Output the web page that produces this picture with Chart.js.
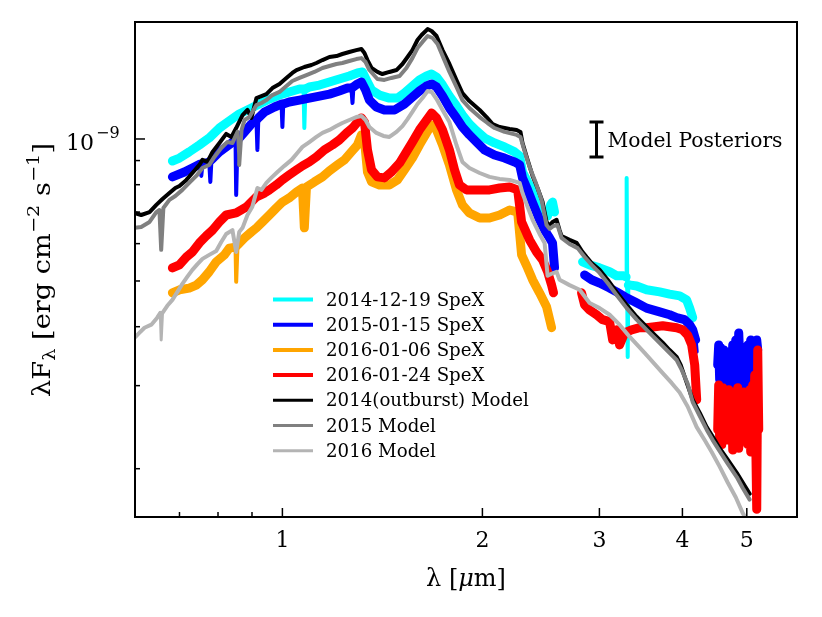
<!DOCTYPE html>
<html>
<head>
<meta charset="utf-8">
<script src="https://cdn.jsdelivr.net/npm/chart.js@4.4.1/dist/chart.umd.min.js"></script>
<style>
  html, body { margin: 0; padding: 0; background: #fff; }
</style>
</head>
<body>
<canvas id="chart" width="822" height="617"></canvas>
<script>
// wavelength in micron, flux (lambda F_lambda) in units of 1e-10 erg cm^-2 s^-1
// null = gap between spectral orders
const spex20141219 = [
  [0.683,8.98],[0.700,9.11],[0.724,9.39],[0.750,9.71],[0.776,10.05],[0.804,10.55],[0.832,10.92],
  [0.861,11.30],[0.892,11.58],[0.923,11.86],[0.956,12.15],[0.990,12.39],[1.024,12.58],[1.061,12.76],
  [1.076,12.76],[1.079,10.55],[1.083,12.76],[1.098,12.89],[1.137,13.01],[1.177,13.21],[1.218,13.40],
  [1.261,13.60],[1.297,13.80],[1.320,13.87],[1.338,13.34],[1.362,12.70],[1.400,12.39],[1.449,12.21],
  [1.490,12.21],[1.526,12.51],[1.569,12.95],[1.608,13.34],[1.648,13.60],[1.677,13.73],[1.706,13.53],
  [1.742,13.01],[1.784,12.33],[1.828,11.75],[1.866,11.24],[1.912,10.76],[1.960,10.40],[2.015,10.05],
  [2.086,9.81],[2.160,9.62],[2.236,9.39],[2.276,9.20],[2.298,8.51],[2.339,8.11],[2.380,7.76],
  [2.421,7.35],[2.464,7.00],[2.507,6.87],[2.533,7.25],[2.550,7.35],[2.568,7.00],[2.70,null],
  [2.830,5.49],[2.900,5.41],[3.002,5.33],[3.108,5.23],[3.184,5.13],[3.263,5.13],[3.291,5.10],
  [3.297,8.27],[3.303,5.03],[3.309,3.45],[3.316,4.90],[3.343,4.90],[3.413,4.88],[3.533,4.79],
  [3.697,4.74],[3.826,4.69],[3.962,4.65],[4.058,4.56],[4.102,4.38],[4.145,4.18]
];

const spex20150115 = [
  [0.683,8.31],[0.712,8.51],[0.737,8.72],[0.752,8.85],[0.755,8.35],[0.758,8.85],[0.776,8.94],
  [0.779,8.11],[0.782,9.03],[0.804,9.39],[0.826,9.66],[0.850,9.95],[0.852,7.61],[0.856,9.95],
  [0.877,10.35],[0.898,10.76],[0.914,10.97],[0.917,9.48],[0.920,11.08],[0.940,11.41],[0.973,11.69],
  [0.997,11.86],[1.000,10.60],[1.003,11.86],[1.024,11.98],[1.061,12.09],[1.098,12.21],[1.137,12.33],
  [1.177,12.45],[1.218,12.64],[1.253,12.82],[1.270,12.82],[1.275,11.92],[1.279,12.89],[1.297,13.08],
  [1.315,13.21],[1.334,12.70],[1.352,12.09],[1.385,11.69],[1.424,11.52],[1.475,11.52],[1.526,11.86],
  [1.569,12.27],[1.608,12.64],[1.648,12.95],[1.677,13.08],[1.706,12.89],[1.742,12.33],[1.784,11.63],
  [1.828,11.08],[1.866,10.60],[1.912,10.20],[1.960,9.85],[2.015,9.48],[2.086,9.25],[2.160,9.11],
  [2.236,8.94],[2.276,8.81],[2.298,8.27],[2.339,7.80],[2.380,7.32],[2.438,6.74],[2.481,6.41],
  [2.524,6.17],[2.550,6.02],[2.568,5.33],[2.70,null],
  [2.850,5.15],[2.920,5.03],[3.002,4.95],[3.108,4.83],[3.184,4.74],[3.274,4.63],[3.389,4.52],
  [3.533,4.38],[3.697,4.30],[3.826,4.24],[3.921,4.18],[4.030,4.14],[4.102,4.04],[4.145,3.94],
  [4.188,3.75],[4.203,3.54],[4.35,null],
  [4.520,3.32],[4.536,3.66],[4.551,3.09],[4.568,3.61],[4.599,3.01],[4.616,3.57],[4.648,3.06],
  [4.664,3.54],[4.696,3.01],[4.712,3.49],[4.745,3.09],[4.762,3.66],[4.795,2.97],[4.812,3.75],
  [4.845,3.01],[4.862,3.88],[4.896,3.00],[4.913,3.57],[4.947,3.01],[4.964,3.49],[4.998,3.04],
  [5.016,3.66],[5.050,3.16],[5.068,3.75],[5.103,3.24],[5.121,3.66],[5.157,3.40],[5.175,3.75],
  [5.193,3.57]
];

const spex20160106 = [
  [0.683,4.72],[0.700,4.79],[0.724,4.83],[0.742,4.90],[0.758,5.03],[0.776,5.23],[0.795,5.49],
  [0.818,5.68],[0.832,5.87],[0.850,5.90],[0.852,4.98],[0.856,5.96],[0.877,6.17],[0.898,6.35],
  [0.914,6.48],[0.933,6.67],[0.956,6.90],[0.979,7.14],[1.000,7.35],[1.024,7.50],[1.050,7.72],
  [1.072,7.87],[1.079,6.48],[1.087,7.91],[1.117,8.11],[1.149,8.31],[1.177,8.56],[1.210,8.81],
  [1.240,9.03],[1.270,9.39],[1.297,9.71],[1.315,10.20],[1.329,9.95],[1.343,8.51],[1.362,8.11],
  [1.400,7.99],[1.449,7.99],[1.490,8.19],[1.526,8.60],[1.569,9.11],[1.608,9.71],[1.648,10.30],
  [1.677,10.71],[1.706,10.45],[1.742,9.71],[1.784,8.81],[1.828,7.80],[1.866,7.25],[1.912,6.97],
  [1.981,6.80],[2.050,6.80],[2.123,6.90],[2.198,7.07],[2.260,7.00],[2.291,5.68],[2.339,5.33],
  [2.380,5.03],[2.438,4.72],[2.498,4.41],[2.542,3.98]
];

const spex20160124 = [
  [0.683,5.33],[0.700,5.41],[0.717,5.62],[0.732,5.76],[0.750,6.02],[0.768,6.23],[0.785,6.41],
  [0.804,6.67],[0.823,6.90],[0.852,6.97],[0.883,7.18],[0.914,7.54],[0.940,7.68],[0.956,7.80],
  [0.979,7.99],[1.000,8.19],[1.024,8.39],[1.050,8.60],[1.072,8.77],[1.098,8.94],[1.125,9.16],
  [1.157,9.48],[1.189,9.71],[1.218,9.95],[1.249,10.30],[1.275,10.55],[1.297,10.86],[1.315,11.08],
  [1.329,10.86],[1.343,9.48],[1.362,8.60],[1.390,8.31],[1.424,8.27],[1.459,8.51],[1.501,8.89],
  [1.537,9.39],[1.569,9.85],[1.608,10.45],[1.648,10.97],[1.677,11.35],[1.706,11.08],[1.742,10.45],
  [1.784,9.48],[1.816,8.60],[1.847,7.99],[1.892,7.80],[1.946,7.80],[2.001,7.80],[2.050,7.80],
  [2.123,7.87],[2.198,7.91],[2.260,7.80],[2.291,6.67],[2.355,6.11],[2.413,5.76],[2.464,5.54],
  [2.507,5.23],[2.542,4.90],[2.559,4.72],[2.70,null],
  [2.820,4.72],[2.850,4.45],[2.900,4.34],[2.971,4.24],[3.033,4.14],[3.108,4.10],[3.141,3.75],
  [3.184,3.94],[3.217,3.66],[3.274,3.88],[3.354,3.94],[3.449,3.98],[3.533,3.98],[3.633,4.00],
  [3.736,4.02],[3.826,4.00],[3.921,3.98],[4.003,3.94],[4.073,3.84],[4.130,3.66],[4.174,3.32],
  [4.203,2.80],[4.35,null],
  [4.520,2.42],[4.536,3.01],[4.551,2.30],[4.568,2.91],[4.584,2.25],[4.599,2.97],[4.632,2.39],
  [4.648,2.87],[4.664,2.30],[4.696,2.94],[4.712,2.44],[4.745,2.91],[4.762,2.19],[4.795,2.87],
  [4.812,2.48],[4.845,2.97],[4.862,2.21],[4.896,2.90],[4.913,2.42],[4.947,2.91],[4.964,2.30],
  [4.998,2.87],[5.016,2.25],[5.050,2.94],[5.068,2.17],[5.103,3.01],[5.121,2.36],[5.139,3.16],
  [5.157,2.30],[5.175,1.64],[5.193,3.57],[5.211,2.42]
];

const model2014 = [
  [0.599,6.97],[0.613,6.90],[0.631,7.00],[0.646,7.25],[0.660,7.46],[0.676,7.68],[0.690,7.87],
  [0.700,7.95],[0.717,8.19],[0.732,8.47],[0.750,8.81],[0.758,9.03],[0.771,8.94],[0.785,9.39],
  [0.804,9.81],[0.823,10.25],[0.838,10.10],[0.852,10.55],[0.871,11.24],[0.886,11.52],[0.898,11.08],
  [0.914,12.21],[0.930,12.33],[0.946,12.45],[0.966,12.82],[0.990,13.08],[1.014,13.47],[1.035,13.80],
  [1.050,14.00],[1.079,14.21],[1.106,14.35],[1.125,14.49],[1.149,14.70],[1.177,14.92],[1.206,14.99],
  [1.231,15.14],[1.261,15.29],[1.292,15.43],[1.315,15.51],[1.329,15.21],[1.343,14.70],[1.362,14.14],
  [1.390,13.87],[1.414,13.73],[1.449,13.87],[1.485,14.00],[1.516,14.42],[1.543,14.92],[1.569,15.43],
  [1.597,16.21],[1.620,16.61],[1.654,17.10],[1.677,16.94],[1.706,16.53],[1.742,15.43],[1.784,14.42],
  [1.828,13.34],[1.866,12.51],[1.912,12.03],[1.981,11.52],[2.029,11.13],[2.072,10.76],[2.123,10.60],
  [2.198,10.50],[2.252,10.45],[2.282,10.35],[2.298,9.81],[2.339,9.03],[2.380,8.35],[2.421,7.87],
  [2.464,7.35],[2.498,6.67],[2.524,6.54],[2.550,6.67],[2.586,6.74],[2.613,6.41],[2.631,6.23],
  [2.705,6.11],[2.772,6.02],[2.830,5.76],[2.870,5.62],[2.920,5.46],[3.002,5.28],[3.087,5.03],
  [3.184,4.74],[3.297,4.45],[3.413,4.20],[3.570,3.94],[3.736,3.70],[3.826,3.57],[3.921,3.45],
  [3.976,3.32],[4.045,3.09],[4.145,2.80],[4.246,2.63],[4.351,2.45],[4.442,2.34],[4.551,2.21],
  [4.680,2.09],[4.829,1.96],[4.930,1.87],[5.050,1.77]
];

const model2015 = [
  [0.599,6.48],[0.613,6.51],[0.631,6.67],[0.646,7.00],[0.653,7.07],[0.657,5.82],[0.662,7.14],
  [0.676,7.43],[0.690,7.57],[0.707,7.80],[0.724,8.07],[0.742,8.35],[0.758,8.68],[0.776,8.81],
  [0.790,9.16],[0.809,9.57],[0.826,9.85],[0.841,9.81],[0.856,10.35],[0.861,8.81],[0.868,10.45],
  [0.877,10.97],[0.892,11.13],[0.914,11.80],[0.930,11.92],[0.946,12.09],[0.966,12.39],[0.990,12.58],
  [1.014,12.95],[1.035,13.27],[1.061,13.47],[1.087,13.66],[1.117,13.87],[1.149,14.14],[1.177,14.28],
  [1.206,14.42],[1.231,14.49],[1.261,14.63],[1.292,14.77],[1.315,14.84],[1.334,14.56],[1.352,14.00],
  [1.390,13.40],[1.424,13.34],[1.459,13.47],[1.501,13.60],[1.537,14.14],[1.569,14.84],[1.597,15.59],
  [1.625,16.06],[1.654,16.53],[1.683,16.37],[1.712,15.90],[1.748,14.84],[1.784,13.87],[1.828,12.89],
  [1.866,12.09],[1.912,11.63],[1.981,11.13],[2.036,10.81],[2.086,10.55],[2.160,10.35],[2.252,10.20],
  [2.282,10.10],[2.307,9.57],[2.355,8.72],[2.404,8.11],[2.455,7.43],[2.498,6.57],[2.524,6.45],
  [2.559,6.54],[2.595,6.57],[2.631,6.17],[2.705,5.99],[2.782,5.87],[2.850,5.62],[2.920,5.41],
  [3.002,5.20],[3.087,4.95],[3.184,4.67],[3.297,4.38],[3.413,4.14],[3.570,3.88],[3.736,3.64],
  [3.921,3.40],[3.990,3.24],[4.073,3.03],[4.145,2.77],[4.246,2.59],[4.351,2.42],[4.442,2.30],
  [4.551,2.18],[4.680,2.05],[4.829,1.92],[4.930,1.82],[5.050,1.72]
];

const model2016 = [
  [0.599,3.79],[0.609,3.88],[0.620,3.98],[0.635,4.04],[0.648,4.18],[0.655,4.28],[0.657,3.75],
  [0.660,4.28],[0.671,4.43],[0.683,4.56],[0.695,4.74],[0.707,4.93],[0.719,5.10],[0.732,5.28],
  [0.745,5.43],[0.758,5.57],[0.776,5.68],[0.795,5.79],[0.809,6.05],[0.823,6.29],[0.841,6.41],
  [0.852,5.76],[0.861,6.35],[0.871,6.48],[0.886,6.90],[0.901,7.18],[0.917,7.87],[0.930,7.80],
  [0.946,8.07],[0.962,8.27],[0.983,8.51],[1.007,8.77],[1.032,9.03],[1.053,9.34],[1.072,9.62],
  [1.098,9.85],[1.125,10.10],[1.149,10.30],[1.177,10.45],[1.206,10.65],[1.231,10.81],[1.261,10.97],
  [1.292,11.13],[1.315,11.19],[1.334,10.97],[1.352,10.60],[1.385,10.30],[1.419,10.15],[1.449,10.10],
  [1.485,10.35],[1.516,10.65],[1.543,11.02],[1.569,11.41],[1.597,11.86],[1.625,12.21],[1.654,12.64],
  [1.677,12.58],[1.706,12.15],[1.742,11.52],[1.784,10.86],[1.828,9.71],[1.866,8.94],[1.912,8.68],
  [1.981,8.47],[2.050,8.31],[2.123,8.23],[2.198,8.19],[2.276,8.07],[2.298,7.68],[2.339,7.18],
  [2.380,6.74],[2.438,6.29],[2.481,6.02],[2.507,5.13],[2.542,5.18],[2.586,5.23],[2.613,5.03],
  [2.705,4.90],[2.801,4.79],[2.900,4.49],[3.002,4.38],[3.108,4.24],[3.217,4.04],[3.331,3.81],
  [3.509,3.52],[3.736,3.19],[3.853,3.04],[3.962,2.90],[4.073,2.71],[4.203,2.45],[4.320,2.30],
  [4.427,2.17],[4.551,2.02],[4.680,1.87],[4.812,1.74],[4.930,1.61],[4.998,1.56]
];

const seriesLabels = [
  "2014-12-19 SpeX", "2015-01-15 SpeX", "2016-01-06 SpeX", "2016-01-24 SpeX",
  "2014(outburst) Model", "2015 Model", "2016 Model"
];
const seriesColors = ["#00ffff", "#0000ff", "#ffa500", "#ff0000", "#000000", "#808080", "#b4b4b4"];

const xTicks = [0.7, 0.8, 0.9, 1, 2, 3, 4, 5];
const xTickLabels = ["", "", "", "1", "2", "3", "4", "5"];
const yTicks = [2e-10, 3e-10, 4e-10, 5e-10, 6e-10, 7e-10, 8e-10, 9e-10, 1e-9];
const yMajor = [1e-9];

// the "Model Posteriors" error bar: wavelength, low, high
const posteriorBar = [2.97, 9.16e-10, 1.086e-9];

const SERIF = '"DejaVu Serif", "Liberation Serif", serif';
const UNIT = 1e-10;

function toPoints(pairs) {
  return pairs.map(p => ({ x: p[0], y: p[1] === null ? null : p[1] * UNIT }));
}

const allSeries = [spex20141219, spex20150115, spex20160106, spex20160124, model2014, model2015, model2016];

// narrow absorption / emission spikes (points very close in wavelength) are drawn thinner
function spikeWidth(normal, thin) {
  return ctx => {
    const a = ctx.p0.parsed.x, b = ctx.p1.parsed.x;
    return (a < 4.4 && b / a < 1.006) ? thin : normal;
  };
}

const datasets = allSeries.map((s, i) => ({
  label: seriesLabels[i],
  data: toPoints(s),
  borderColor: seriesColors[i],
  backgroundColor: seriesColors[i],
  borderWidth: i < 4 ? 9 : 4,
  segment: { borderWidth: i < 4 ? spikeWidth(9, 4) : spikeWidth(4, 3) },
  pointRadius: 0,
  tension: 0,
  spanGaps: false,
  borderJoinStyle: "round",
  borderCapStyle: "round",
  order: 7 - i
}));

function drawRuns(ctx, runs, x, y) {
  let cx = x;
  runs.forEach(r => {
    ctx.font = (r.style || "") + " " + r.size + "px " + SERIF;
    ctx.fillText(r.t, cx, y + (r.dy || 0));
    cx += ctx.measureText(r.t).width;
  });
  return cx - x;
}

function runsWidth(ctx, runs) {
  let w = 0;
  runs.forEach(r => {
    ctx.font = (r.style || "") + " " + r.size + "px " + SERIF;
    w += ctx.measureText(r.t).width;
  });
  return w;
}

const decorations = {
  id: "decorations",
  afterDraw(chart) {
    const ctx = chart.ctx;
    const area = chart.chartArea;
    const xs = chart.scales.x;
    const ys = chart.scales.y;
    ctx.save();
    ctx.fillStyle = "#000";
    ctx.strokeStyle = "#000";

    // ticks pointing inwards
    ctx.lineWidth = 1.5;
    xTicks.forEach((v, i) => {
      const px = xs.getPixelForValue(v);
      const len = xTickLabels[i] ? 9 : 5;
      ctx.beginPath();
      ctx.moveTo(px, area.bottom);
      ctx.lineTo(px, area.bottom - len);
      ctx.stroke();
    });
    yTicks.forEach(v => {
      const py = ys.getPixelForValue(v);
      const len = yMajor.includes(v) ? 10 : 5;
      ctx.beginPath();
      ctx.moveTo(area.left, py);
      ctx.lineTo(area.left + len, py);
      ctx.stroke();
    });

    // frame
    ctx.lineWidth = 2;
    ctx.strokeRect(area.left, area.top, area.right - area.left, area.bottom - area.top);

    // y major label 10^-9
    const py9 = ys.getPixelForValue(yMajor[0]);
    ctx.textBaseline = "alphabetic";
    ctx.textAlign = "right";
    ctx.font = "22px " + SERIF;
    ctx.fillText("10", 94, py9 + 11);
    ctx.textAlign = "left";
    ctx.font = "16px " + SERIF;
    ctx.fillText("\u22129", 96, py9 - 1);

    // x title
    const xRuns = [
      { t: "\u03bb [", size: 24 },
      { t: "\u03bc", size: 24, style: "italic" },
      { t: "m]", size: 24 }
    ];
    const xw = runsWidth(ctx, xRuns);
    drawRuns(ctx, xRuns, 466 - xw / 2, 586);

    // y title (rotated)
    const yRuns = [
      { t: "\u03bbF", size: 24 },
      { t: "\u03bb", size: 17, dy: 5 },
      { t: " [erg cm", size: 24 },
      { t: "\u22122", size: 17, dy: -11 },
      { t: " s", size: 24 },
      { t: "\u22121", size: 17, dy: -11 },
      { t: "]", size: 24 }
    ];
    const yw = runsWidth(ctx, yRuns);
    ctx.save();
    ctx.translate(50, 270);
    ctx.rotate(-Math.PI / 2);
    ctx.scale(254 / yw, 1);
    drawRuns(ctx, yRuns, -yw / 2, 0);
    ctx.restore();

    // legend
    datasets.forEach((d, i) => {
      const ry = 299.5 + i * 25.2;
      ctx.strokeStyle = d.borderColor;
      ctx.lineWidth = i < 4 ? 4 : 3;
      ctx.beginPath();
      ctx.moveTo(273, ry);
      ctx.lineTo(313, ry);
      ctx.stroke();
      ctx.fillStyle = "#000";
      ctx.font = "18.2px " + SERIF;
      ctx.textAlign = "left";
      ctx.fillText(d.label, 326, ry + 6);
    });

    // model posteriors error bar
    const bx = xs.getPixelForValue(posteriorBar[0]);
    const b1 = ys.getPixelForValue(posteriorBar[1]);
    const b2 = ys.getPixelForValue(posteriorBar[2]);
    ctx.strokeStyle = "#000";
    ctx.lineWidth = 3;
    ctx.beginPath();
    ctx.moveTo(bx, b1); ctx.lineTo(bx, b2);
    ctx.moveTo(bx - 7, b1); ctx.lineTo(bx + 7, b1);
    ctx.moveTo(bx - 7, b2); ctx.lineTo(bx + 7, b2);
    ctx.stroke();
    ctx.fillStyle = "#000";
    ctx.font = "20.3px " + SERIF;
    ctx.fillText("Model Posteriors", bx + 11, (b1 + b2) / 2 + 7);

    ctx.restore();
  }
};

new Chart(document.getElementById("chart"), {
  type: "line",
  data: { datasets: datasets },
  options: {
    responsive: false,
    animation: false,
    devicePixelRatio: 1,
    layout: { padding: { top: 22, right: 25, left: 0, bottom: 0 } },
    plugins: { legend: { display: false }, tooltip: { enabled: false } },
    scales: {
      x: {
        type: "logarithmic",
        min: 0.6,
        max: 5.95,
        afterBuildTicks: scale => { scale.ticks = xTicks.map(v => ({ value: v })); },
        afterFit: scale => { scale.height = 100; },
        grid: { display: false, drawTicks: false },
        border: { display: false },
        ticks: {
          autoSkip: false,
          maxRotation: 0,
          padding: 11,
          color: "#000",
          font: { family: SERIF, size: 22 },
          callback: (value) => {
            const i = xTicks.indexOf(value);
            return i >= 0 ? xTickLabels[i] : "";
          }
        }
      },
      y: {
        type: "logarithmic",
        min: 1.58e-10,
        max: 1.77e-9,
        afterBuildTicks: scale => { scale.ticks = yTicks.map(v => ({ value: v })); },
        afterFit: scale => { scale.width = 135; },
        grid: { display: false, drawTicks: false },
        border: { display: false },
        ticks: { display: false }
      }
    }
  },
  plugins: [decorations]
});
</script>
</body>
</html>
